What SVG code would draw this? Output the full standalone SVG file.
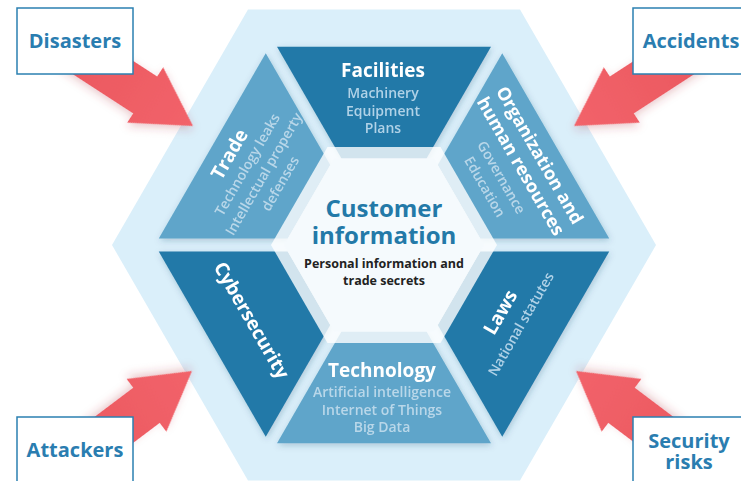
<svg xmlns="http://www.w3.org/2000/svg" width="741" height="481" viewBox="0 0 741 481">
<defs>
<filter id="sh" x="-20%" y="-20%" width="140%" height="140%">
<feDropShadow dx="1" dy="2" stdDeviation="3" flood-color="#1a4a66" flood-opacity="0.25"/>
</filter>
<filter id="ash" x="-30%" y="-30%" width="160%" height="160%">
<feDropShadow dx="2" dy="3" stdDeviation="4" flood-color="#b03038" flood-opacity="0.25"/>
</filter>
<linearGradient id="ag" x1="0" y1="0" x2="1" y2="0">
<stop offset="0" stop-color="#e9555d"/>
<stop offset="1" stop-color="#f2636a"/>
</linearGradient>
<path id="arrow" d="M0,0 L-57,-33 L-57,-22 L-175,-22 L-175,22 L-57,22 L-57,33 Z"/>
</defs>
<style>
text{font-family:"Open Sans","Noto Sans","Liberation Sans",sans-serif;text-anchor:middle}
.dark{fill:#2379a8}
.light{fill:#5fa5ca}
.t{fill:#ffffff;font-weight:700;font-size:19px}
.sd{fill:#b0d2e7;font-weight:600;font-size:14px}
.sl{fill:#b9d7e9;font-weight:600;font-size:14px}
.box{fill:#ffffff;stroke:#2b80b1;stroke-width:1.5}
.lbl{fill:#2a7db0;font-weight:700;font-size:20px}
.arr{fill:url(#ag);filter:url(#ash)}
</style>
<rect width="741" height="481" fill="#ffffff"/>
<g id="background-hexagon">
<polygon points="656,245 520,480.6 248,480.6 112,245 248,9.4 520,9.4" fill="#daeffa"/>
</g>
<g id="facilities" filter="url(#sh)">
<polygon class="dark" points="277,46.7 491,46.7 426.5,158.4 341.5,158.4"/>
<text class="t" x="383" y="77">Facilities</text>
<text class="sd" x="383" y="98">Machinery</text>
<text class="sd" x="383" y="115.5">Equipment</text>
<text class="sd" x="383" y="133">Plans</text>
</g>
<g id="organization" filter="url(#sh)">
<polygon class="light" points="502.25,53.2 609.25,238.5 480.25,238.5 437.75,164.9"/>
<g transform="translate(540,155) rotate(60)">
<text class="t" style="font-size:18px" x="0" y="6.5">Organization and</text>
<text class="t" style="font-size:18px" x="0" y="28.5">human resources</text>
<text class="sl" x="0" y="49.5">Governance</text>
<text class="sl" x="0" y="68.5">Education</text>
</g>
</g>
<g id="laws" filter="url(#sh)">
<polygon class="dark" points="609.25,251.5 502.25,436.8 437.75,325.1 480.25,251.5"/>
<g transform="translate(500,312) rotate(-60)">
<text class="t" x="0" y="7">Laws</text>
<text class="sd" x="0" y="29">National statutes</text>
</g>
</g>
<g id="technology" filter="url(#sh)">
<polygon class="light" points="277,443.3 491,443.3 426.5,331.6 341.5,331.6"/>
<text class="t" x="382" y="377">Technology</text>
<text class="sl" x="382" y="397">Artificial intelligence</text>
<text class="sl" x="382" y="415">Internet of Things</text>
<text class="sl" x="382" y="432">Big Data</text>
</g>
<g id="cybersecurity" filter="url(#sh)">
<polygon class="dark" points="265.75,436.8 158.75,251.5 287.75,251.5 330.25,325.1"/>
<g transform="translate(252,320) rotate(60)">
<text class="t" x="0" y="7">Cybersecurity</text>
</g>
</g>
<g id="trade" filter="url(#sh)">
<polygon class="light" points="158.75,238.5 265.75,53.2 330.25,164.9 287.75,238.5"/>
<g transform="translate(229,154) rotate(-60)">
<text class="t" x="0" y="7">Trade</text>
<text class="sl" x="0" y="26">Technology leaks</text>
<text class="sl" x="0" y="45">Intellectual property</text>
<text class="sl" x="0" y="64">defenses</text>
</g>
</g>
<g id="customer-information">
<polygon points="497,245 440.5,342.9 327.5,342.9 271,245 327.5,147.1 440.5,147.1" fill="#ffffff" fill-opacity="0.8"/>
<polygon points="484,245 434,331.6 334,331.6 284,245 334,158.4 434,158.4" fill="#f5fafd"/>
<text x="384" y="217" style="fill:#2379a8;font-weight:700;font-size:24px">Customer</text>
<text x="384" y="244" style="fill:#2379a8;font-weight:700;font-size:24px">information</text>
<text x="384" y="268" style="fill:#222222;font-weight:700;font-size:12.5px">Personal information and</text>
<text x="384" y="285" style="fill:#222222;font-weight:700;font-size:12.5px">trade secrets</text>
</g>
<g id="connectors">
<use href="#arrow" class="arr" transform="translate(193,126) rotate(33)"/>
<use href="#arrow" class="arr" transform="translate(574,126) scale(-1,1) rotate(33)"/>
<use href="#arrow" class="arr" transform="translate(192,371) scale(1,-1) rotate(37)"/>
<use href="#arrow" class="arr" transform="translate(576,371) scale(-1,-1) rotate(37)"/>
</g>
<g id="disasters">
<rect class="box" x="17" y="8" width="116" height="66"/>
<text class="lbl" x="75" y="48">Disasters</text>
</g>
<g id="accidents">
<rect class="box" x="633" y="8" width="116" height="66"/>
<text class="lbl" x="691" y="48">Accidents</text>
</g>
<g id="attackers">
<rect class="box" x="17" y="417" width="116" height="66"/>
<text class="lbl" x="75" y="457">Attackers</text>
</g>
<g id="security-risks">
<rect class="box" x="633" y="417" width="116" height="66"/>
<text class="lbl" x="689" y="448">Security</text>
<text class="lbl" x="689" y="469">risks</text>
</g>
</svg>
